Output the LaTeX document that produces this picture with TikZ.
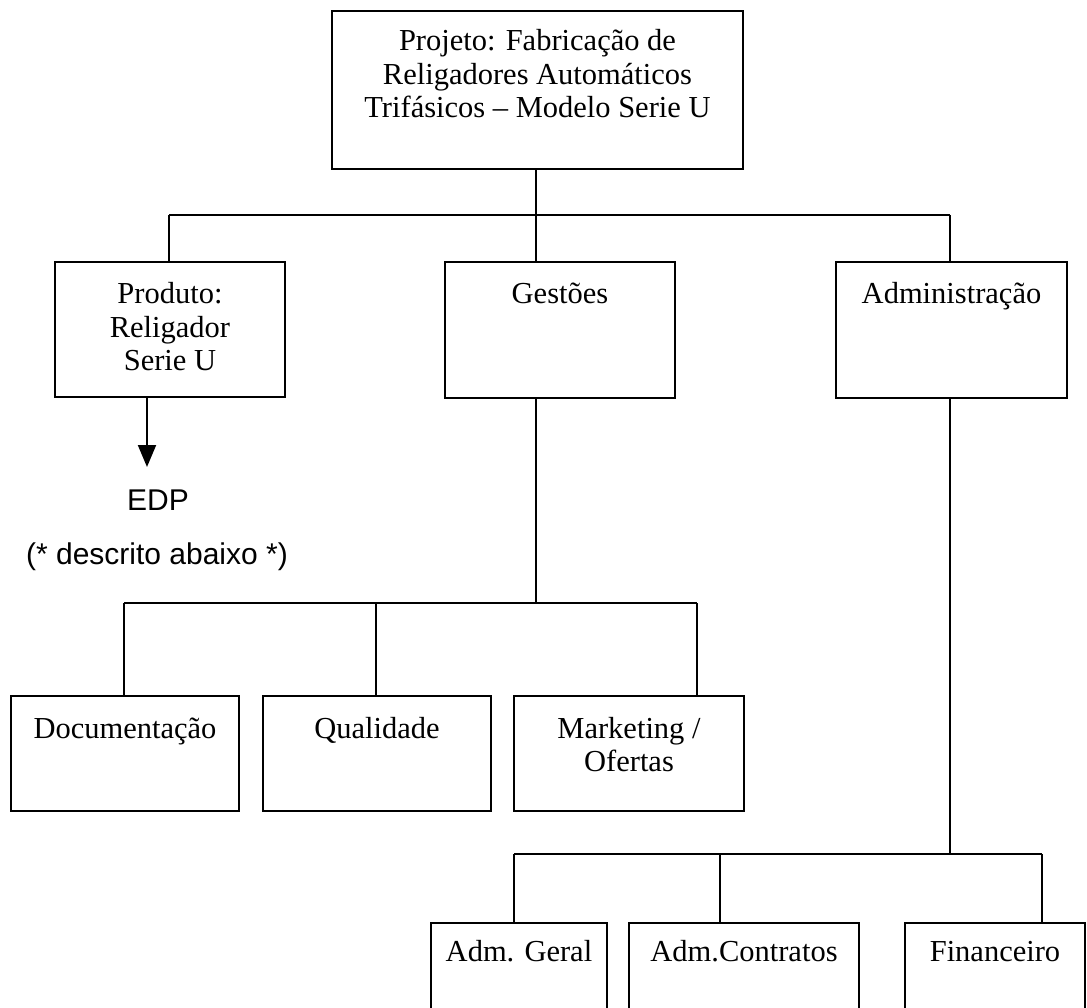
\documentclass[tikz,border=0pt]{standalone}
\usepackage{fontspec}
\setmainfont{Liberation Serif}
\newfontfamily\labelsans{Liberation Sans}
\usetikzlibrary{arrows.meta}

% box text: width, height, first baseline from top, content
\newcommand{\orgtext}[4]{\parbox[t][#2][t]{#1}{\centering\rule{0pt}{#3}#4}}

\tikzset{
  orgbox/.style={draw, line width=2pt, inner sep=0pt, anchor=north west,
    font=\fontsize{30.5}{33.5}\selectfont},
  link/.style={line width=2pt},
  note/.style={inner sep=0pt, font=\labelsans\fontsize{30}{34}\selectfont},
}

\begin{document}
\begin{tikzpicture}[x=1pt,y=-1pt]
\useasboundingbox (0,0) rectangle (1087,1008);
\clip (0,0) rectangle (1087,1008);

% top level
\node[orgbox] (proj) at (331,10)
  {\orgtext{411pt}{158pt}{40pt}{Projeto: Fabrica\c{c}\~ao de\\Religadores Autom\'aticos\\Trif\'asicos -- Modelo Serie U}};

% first level
\node[orgbox] (prod) at (54,261) {\orgtext{230pt}{135pt}{42pt}{Produto:\\Religador\\Serie U}};
\node[orgbox] (gest) at (444,261) {\orgtext{230pt}{136pt}{42pt}{Gest\~oes}};
\node[orgbox] (adm)  at (835,261) {\orgtext{231pt}{136pt}{42pt}{Administra\c{c}\~ao}};

% second level under Gestoes
\node[orgbox] (doc)  at (10,695)  {\orgtext{228pt}{115pt}{42pt}{Documenta\c{c}\~ao}};
\node[orgbox] (qual) at (262,695) {\orgtext{228pt}{115pt}{42pt}{Qualidade}};
\node[orgbox] (mkt)  at (513,695) {\orgtext{230pt}{115pt}{42pt}{Marketing /\\Ofertas}};

% second level under Administracao
\node[orgbox] (admg) at (430,922) {\orgtext{176pt}{120pt}{38pt}{Adm. Geral}};
\node[orgbox] (admc) at (628,922) {\orgtext{230pt}{120pt}{38pt}{Adm.Contratos}};
\node[orgbox] (fin)  at (904,922) {\orgtext{180pt}{120pt}{38pt}{Financeiro}};

% EDP note
\coordinate (edptip) at (147,467);
\node[note] (edp)  at (158,500) {EDP};
\node[note] (desc) at (157,557) {(* descrito abaixo *)};
\draw[link, -{Triangle[width=18pt,length=22pt]}] (prod.south -| edptip) -- (edptip);

% bus under the project box
\coordinate (busA) at (536,215);
\coordinate (busAL) at (169,215);
\coordinate (busAR) at (950,215);
\draw[link] (proj.south -| busA) -- (busA);
\draw[link] (busAL) -- (busAR);
\draw[link] (busAL) -- (busAL |- prod.north);
\draw[link] (busA) -- (busA |- gest.north);
\draw[link] (busAR) -- (busAR |- adm.north);

% bus under Gestoes
\coordinate (busB) at (536,603);
\coordinate (busBL) at (124,603);
\coordinate (busBM) at (376,603);
\coordinate (busBR) at (697,603);
\draw[link] (gest.south -| busB) -- (busB);
\draw[link] (busBL) -- (busBR);
\draw[link] (busBL) -- (busBL |- doc.north);
\draw[link] (busBM) -- (busBM |- qual.north);
\draw[link] (busBR) -- (busBR |- mkt.north);

% bus under Administracao
\coordinate (busC) at (950,854);
\coordinate (busCL) at (514,854);
\coordinate (busCM) at (720,854);
\coordinate (busCR) at (1042,854);
\draw[link] (adm.south -| busC) -- (busC);
\draw[link] (busCL) -- (busCR);
\draw[link] (busCL) -- (busCL |- admg.north);
\draw[link] (busCM) -- (busCM |- admc.north);
\draw[link] (busCR) -- (busCR |- fin.north);
\end{tikzpicture}
\end{document}
